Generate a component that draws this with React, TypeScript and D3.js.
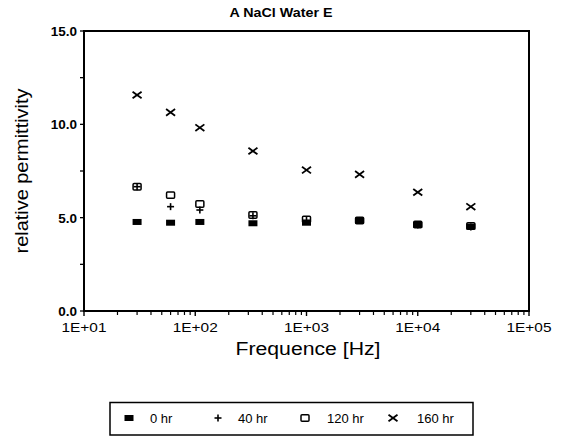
import React from "react";
import * as d3 from "d3";

const freqs = [30, 60, 110, 330, 1000, 3000, 10000, 30000];
const hr0 = [4.77, 4.73, 4.77, 4.7, 4.73, 4.84, 4.61, 4.52];
const hr40 = [6.66, 5.59, 5.41, 5.1, 4.85, 4.85, 4.61, 4.5];
const hr120 = [6.66, 6.21, 5.73, 5.14, 4.9, 4.85, 4.63, 4.55];
const hr160 = [11.57, 10.64, 9.82, 8.57, 7.55, 7.32, 6.36, 5.59];
const seriesNames = ["0 hr", "40 hr", "120 hr", "160 hr"];
const xTickLabels = ["1E+01", "1E+02", "1E+03", "1E+04", "1E+05"];
const yTickLabels = ["0.0", "5.0", "10.0", "15.0"];

const W = 566, H = 438;
const L = 84, R = 529, T = 31, B = 311;
const FONT = "'Liberation Sans', Arial, Helvetica, sans-serif";

function Marker({ kind, x, y }: { kind: number; x: number; y: number }) {
  if (kind === 0) return <rect x={x - 4.5} y={y - 3} width={9} height={6} fill="#000" />;
  if (kind === 1)
    return (
      <g stroke="#000" strokeWidth={1.6}>
        <line x1={x - 3.5} x2={x + 3.5} y1={y} y2={y} />
        <line x1={x} x2={x} y1={y - 3.5} y2={y + 3.5} />
      </g>
    );
  if (kind === 2)
    return <rect x={x - 4} y={y - 3.2} width={8} height={6.4} fill="none" stroke="#000" strokeWidth={1.5} rx={1} />;
  return (
    <g stroke="#000" strokeWidth={1.8}>
      <line x1={x - 4.5} x2={x + 4.5} y1={y - 3.3} y2={y + 3.3} />
      <line x1={x - 4.5} x2={x + 4.5} y1={y + 3.3} y2={y - 3.3} />
    </g>
  );
}

export default function App() {
  const x = d3.scaleLog().domain([10, 100000]).range([L, R]);
  const y = d3.scaleLinear().domain([0, 15]).range([B, T]);
  const series = [hr0, hr40, hr120, hr160];

  const minorX: number[] = [];
  for (let e = 1; e < 5; e++) for (let m = 2; m <= 9; m++) minorX.push(m * Math.pow(10, e));
  const majorX = [10, 100, 1000, 10000, 100000];
  const yTicks = [0, 2.5, 5, 7.5, 10, 12.5, 15];

  const legendItems = [
    { mx: 129, tx: 150 },
    { mx: 218, tx: 238 },
    { mx: 305, tx: 327 },
    { mx: 393, tx: 417 },
  ];

  return (
    <svg width={W} height={H} style={{ position: "absolute", left: 0, top: 0, background: "#fff" }}>
      <rect x={0} y={0} width={W} height={H} fill="#fff" />
      <text x={281} y={17} textAnchor="middle" fontFamily={FONT} fontSize={12} fontWeight="bold" textLength={103} lengthAdjust="spacingAndGlyphs">
        A NaCl Water E
      </text>
      {/* frame */}
      <rect x={L} y={T} width={R - L} height={B - T} fill="none" stroke="#000" strokeWidth={2} />
      {/* x ticks */}
      {minorX.map((v, i) => (
        <line key={"mx" + i} x1={x(v)} x2={x(v)} y1={B} y2={B + 4} stroke="#000" strokeWidth={1.2} />
      ))}
      {majorX.map((v, i) => (
        <g key={"MX" + i}>
          <line x1={x(v)} x2={x(v)} y1={B} y2={B + 5} stroke="#000" strokeWidth={1.4} />
          <text x={x(v)} y={332} textAnchor="middle" fontFamily={FONT} fontSize={13.5} textLength={45} lengthAdjust="spacingAndGlyphs">
            {xTickLabels[i]}
          </text>
        </g>
      ))}
      {/* y ticks */}
      {yTicks.map((v, i) => (
        <line key={"yt" + i} x1={L - 4} x2={L} y1={y(v)} y2={y(v)} stroke="#000" strokeWidth={1.3} />
      ))}
      {[0, 5, 10, 15].map((v, i) => (
        <text key={"yl" + i} x={L - 7} y={y(v) + 5} textAnchor="end" fontFamily={FONT} fontSize={13.5} fontWeight="bold">
          {yTickLabels[i]}
        </text>
      ))}
      <text x={308} y={355} textAnchor="middle" fontFamily={FONT} fontSize={17.5} textLength={145} lengthAdjust="spacingAndGlyphs">
        Frequence [Hz]
      </text>
      <text transform={`translate(28,${(T + B) / 2}) rotate(-90)`} textAnchor="middle" fontFamily={FONT} fontSize={17.5} textLength={165} lengthAdjust="spacingAndGlyphs">
        relative permittivity
      </text>
      {/* data */}
      {series.map((s, si) =>
        s.map((v, i) => <Marker key={si + "-" + i} kind={si} x={x(freqs[i])} y={y(v)} />)
      )}
      {/* legend */}
      <rect x={110} y={402.5} width={363} height={32.5} fill="none" stroke="#000" strokeWidth={1.5} />
      {legendItems.map((it, i) => (
        <g key={"lg" + i}>
          <Marker kind={i} x={it.mx} y={418} />
          <text x={it.tx} y={423} fontFamily={FONT} fontSize={13}>
            {seriesNames[i]}
          </text>
        </g>
      ))}
    </svg>
  );
}
